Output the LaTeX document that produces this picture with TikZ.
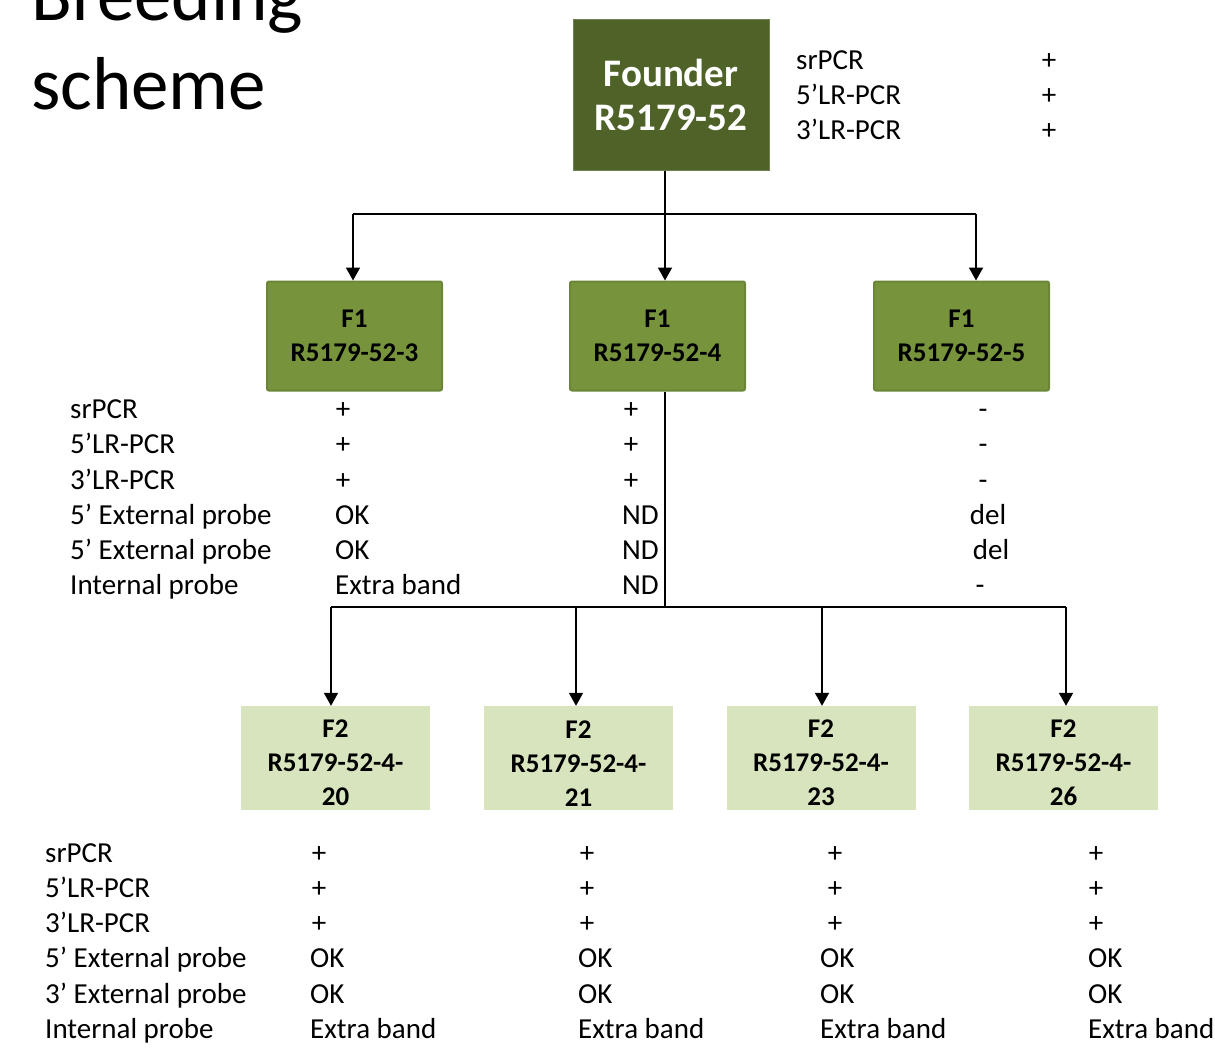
\documentclass[tikz,border=0pt]{standalone}
\usepackage{fontspec}
\setmainfont{Carlito}
\usetikzlibrary{arrows.meta}
\definecolor{founderc}{HTML}{4F6228}
\definecolor{fonec}{HTML}{77933C}
\definecolor{fonedraw}{HTML}{6B8636}
\definecolor{ftwoc}{HTML}{D7E4BD}
\tikzset{
  conn/.style={line width=1.8pt, draw=black},
  arr/.style={conn, -{Triangle[width=14pt,length=13pt]}},
  body/.style={font=\fontsize{29}{35}\selectfont, inner sep=0pt, anchor=base west},
  bodyc/.style={font=\fontsize{29}{35}\selectfont, inner sep=0pt, anchor=base},
  founderbox/.style={fill=founderc, draw=founderc!80!white, line width=1pt, minimum width=196pt, minimum height=151pt, text=white, align=center, font=\bfseries\fontsize{39}{47}\selectfont, inner sep=0pt},
  fonebox/.style={fill=fonec, draw=fonedraw, line width=2pt, rounded corners=2pt, minimum width=175pt, minimum height=109pt, align=center, font=\bfseries\fontsize{27}{34}\selectfont, inner sep=0pt},
  ftwobox/.style={fill=ftwoc, minimum width=189pt, minimum height=104pt, align=center, font=\bfseries\fontsize{27}{34}\selectfont, inner sep=0pt},
}
\begin{document}
\begin{tikzpicture}[x=1pt,y=-1pt]
\useasboundingbox (0,0) rectangle (1215,1061);
% title
\node[font=\fontsize{75}{90}\selectfont, inner sep=0pt, anchor=base west] (title1) at (31,20) {Breeding};
\node[font=\fontsize{75}{90}\selectfont, inner sep=0pt, anchor=base west] (title2) at (31,109) {scheme};
% founder
\node[founderbox] (founder) at (671,94.5) {Founder\\[-3pt]R5179-52};
\foreach \i/\t/\y in {1/srPCR/69,2/5’LR-PCR/104,3/3’LR-PCR/139}{
  \node[body] (ft\i) at (796,\y) {\t};
  \node[bodyc] (fv\i) at (1049,\y) {+};
}
% F1 boxes
\node[fonebox] (f1a) at (354.5,336) {F1\\R5179-52-3};
\node[fonebox] (f1b) at (657.5,336) {F1\\R5179-52-4};
\node[fonebox] (f1c) at (961.5,336) {F1\\R5179-52-5};
% connectors founder -> F1
\coordinate (t1) at (665,214);
\coordinate (d1a) at (353,214);
\coordinate (d1c) at (976,214);
\draw[conn] (founder.south -| t1) -- (t1);
\draw[conn] (d1a) -- (d1c);
\draw[arr] (d1a) -- (f1a.north -| d1a);
\draw[arr] (t1) -- (f1b.north -| t1);
\draw[arr] (d1c) -- (f1c.north -| d1c);
% F1 table
\node[body] (r1) at (70,418) {srPCR};
\node[body] (r2) at (70,453) {5’LR-PCR};
\node[body] (r3) at (70,489) {3’LR-PCR};
\node[body] (r4) at (70,524) {5’ External probe};
\node[body] (r5) at (70,559) {5’ External probe};
\node[body] (r6) at (70,594) {Internal probe};
\node[bodyc] (a1) at (343,418) {+};
\node[bodyc] (a2) at (343,453) {+};
\node[bodyc] (a3) at (343,489) {+};
\node[body] (a4) at (335,524) {OK};
\node[body] (a5) at (335,559) {OK};
\node[body] (a6) at (335,594) {Extra band};
\node[bodyc] (b1) at (631,418) {+};
\node[bodyc] (b2) at (631,453) {+};
\node[bodyc] (b3) at (631,489) {+};
\node[body] (b4) at (622,524) {ND};
\node[body] (b5) at (622,559) {ND};
\node[body] (b6) at (622,594) {ND};
\node[bodyc] (c1) at (983,418) {-};
\node[bodyc] (c2) at (983,453) {-};
\node[bodyc] (c3) at (983,489) {-};
\node[bodyc] (c4) at (988,524) {del};
\node[bodyc] (c5) at (991,559) {del};
\node[bodyc] (c6) at (980,594) {-};
% F2 boxes
\node[ftwobox] (f2a) at (335.5,758) {\\[-6pt]F2\\R5179-52-4-\\20};
\node[ftwobox] (f2b) at (578.5,758) {\\[-6pt]F2\\R5179-52-4-\\21};
\node[ftwobox] (f2c) at (821,758) {\\[-6pt]F2\\R5179-52-4-\\23};
\node[ftwobox] (f2d) at (1063.5,758) {\\[-6pt]F2\\R5179-52-4-\\26};
% connectors F1 -> F2
\coordinate (t2) at (665,607);
\coordinate (d2a) at (331,607);
\coordinate (d2b) at (576,607);
\coordinate (d2c) at (822,607);
\coordinate (d2d) at (1066,607);
\draw[conn] (f1b.south -| t2) -- (t2);
\draw[conn] (d2a) -- (d2d);
\draw[arr] (d2a) -- (f2a.north -| d2a);
\draw[arr] (d2b) -- (f2b.north -| d2b);
\draw[arr] (d2c) -- (f2c.north -| d2c);
\draw[arr] (d2d) -- (f2d.north -| d2d);
% F2 table
\node[body] (s1) at (45,862) {srPCR};
\node[body] (s2) at (45,897) {5’LR-PCR};
\node[body] (s3) at (45,932) {3’LR-PCR};
\node[body] (s4) at (45,967) {5’ External probe};
\node[body] (s5) at (45,1003) {3’ External probe};
\node[body] (s6) at (45,1038) {Internal probe};
\foreach \c/\px/\ox in {p/319/310,q/587/578,r/835/820,u/1096/1088}{
  \node[bodyc] (\c1) at (\px,862) {+};
  \node[bodyc] (\c2) at (\px,897) {+};
  \node[bodyc] (\c3) at (\px,932) {+};
  \node[body] (\c4) at (\ox,967) {OK};
  \node[body] (\c5) at (\ox,1003) {OK};
  \node[body] (\c6) at (\ox,1038) {Extra band};
}
\end{tikzpicture}
\end{document}
